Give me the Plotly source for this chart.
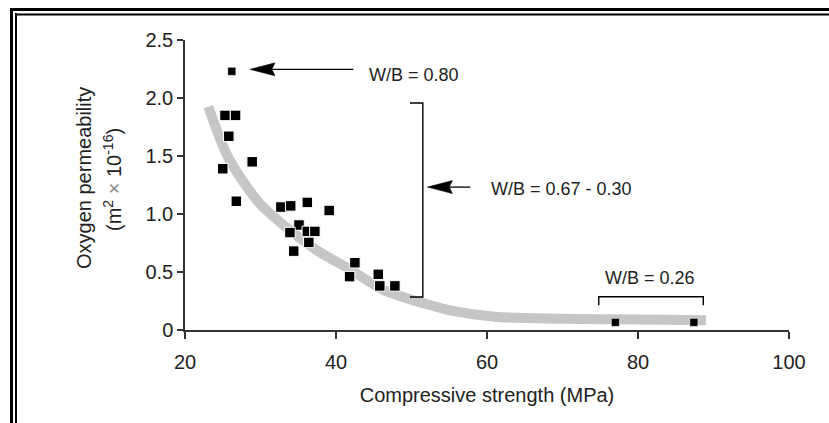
import plotly.graph_objects as go

# ---------------- data ----------------
wb080_strength = [26.2]
wb080_perm = [2.23]

wb067_strength = [25.3, 26.7, 25.8, 25.0, 28.9, 26.8, 32.7, 34.0, 36.2, 39.1, 35.1,
                  33.9, 36.2, 37.2, 36.4, 34.4, 42.5, 41.8, 45.6, 45.8, 47.8]
wb067_perm = [1.85, 1.85, 1.67, 1.39, 1.45, 1.11, 1.06, 1.07, 1.10, 1.03, 0.905,
              0.84, 0.85, 0.85, 0.755, 0.68, 0.58, 0.46, 0.48, 0.38, 0.38]

wb026_strength = [77.0, 87.4]
wb026_perm = [0.066, 0.066]

trend_strength = [23.1, 25.7, 29.9, 33.9, 37.4, 41.9, 46.3, 51.6, 55.1, 61.0, 70.0, 80.0, 89.0]
trend_perm = [1.925, 1.49, 1.09, 0.86, 0.69, 0.52, 0.345, 0.23, 0.17, 0.115, 0.098, 0.09, 0.085]

x_ticks = [20, 40, 60, 80, 100]
x_ticktext = ["20", "40", "60", "80", "100"]
y_ticks = [0, 0.5, 1.0, 1.5, 2.0, 2.5]
y_ticktext = ["0", "0.5", "1.0", "1.5", "2.0", "2.5"]

# ---------------- layout geometry ----------------
W, H = 829, 423
ML, MR, MT, MB = 185, 40, 40, 93
PW, PH = W - ML - MR, H - MT - MB
XMIN, XMAX, YMIN, YMAX = 20, 100, 0, 2.5
XPX = PW / (XMAX - XMIN)
YPX = PH / (YMAX - YMIN)


def px(x):
    return (x - ML) / PW


def py(y):
    return (H - MB - y) / PH


FONT = "Liberation Sans, Arial, sans-serif"
TXT = "#222222"
AX = "#333333"

fig = go.Figure()

fig.add_trace(go.Scatter(
    x=trend_strength, y=trend_perm, mode="lines",
    line=dict(color="#c6c6c6", width=10, shape="spline", smoothing=0.8),
    hoverinfo="skip", showlegend=False))

fig.add_trace(go.Scatter(
    x=wb067_strength, y=wb067_perm, mode="markers",
    marker=dict(symbol="square", size=10.5, color="black", line=dict(color="white", width=1)),
    showlegend=False))

fig.add_trace(go.Scatter(
    x=wb080_strength, y=wb080_perm, mode="markers",
    marker=dict(symbol="square", size=8, color="black", line=dict(color="white", width=0.5)),
    showlegend=False))

fig.add_trace(go.Scatter(
    x=wb026_strength, y=wb026_perm, mode="markers",
    marker=dict(symbol="square", size=8, color="black", line=dict(color="white", width=0.5)),
    showlegend=False))

shapes = []


def arrow(tip_x, tail_x, y):
    head_len = 25 / XPX
    half_w = 6.5 / YPX
    shapes.append(dict(type="line", xref="x", yref="y", x0=tip_x + head_len * 0.8, x1=tail_x,
                       y0=y, y1=y, line=dict(color="black", width=1.3)))
    shapes.append(dict(type="path", xref="x", yref="y",
                       path=f"M{tip_x},{y} L{tip_x + head_len},{y + half_w} "
                            f"L{tip_x + head_len * 0.88},{y} L{tip_x + head_len},{y - half_w} Z",
                       fillcolor="black", line=dict(color="black", width=0.5)))


arrow(28.6, 42.3, 2.247)
arrow(52.1, 57.8, 1.232)

# bracket for W/B 0.67-0.30
shapes.append(dict(type="path", xref="x", yref="y",
                   path="M49.8,1.957 L51.5,1.957 L51.5,0.284 L49.8,0.284",
                   line=dict(color="black", width=1.4)))
# bracket for W/B 0.26
shapes.append(dict(type="path", xref="x", yref="y",
                   path="M74.8,0.214 L74.8,0.287 L88.65,0.287 L88.65,0.214",
                   line=dict(color="black", width=1.4)))

# outer double frame
shapes += [
    dict(type="line", xref="paper", yref="paper", x0=px(11.5), x1=px(11.5), y0=py(8), y1=py(430),
         line=dict(color="black", width=3)),
    dict(type="line", xref="paper", yref="paper", x0=px(16), x1=px(16), y0=py(13), y1=py(430),
         line=dict(color="black", width=2)),
    dict(type="line", xref="paper", yref="paper", x0=px(10), x1=px(840), y0=py(9.5), y1=py(9.5),
         line=dict(color="black", width=3)),
    dict(type="line", xref="paper", yref="paper", x0=px(15), x1=px(840), y0=py(14.5), y1=py(14.5),
         line=dict(color="black", width=2)),
]

annotations = [
    dict(text="W/B = 0.80", x=44.1, y=2.198, xref="x", yref="y", xanchor="left", yanchor="middle",
         showarrow=False, font=dict(size=18, color=TXT, family=FONT)),
    dict(text="W/B = 0.67 - 0.30", x=60.2, y=1.216, xref="x", yref="y", xanchor="left",
         yanchor="middle", showarrow=False, font=dict(size=18, color=TXT, family=FONT)),
    dict(text="W/B = 0.26", x=81.6, y=0.446, xref="x", yref="y", xanchor="center",
         yanchor="middle", showarrow=False, font=dict(size=18, color=TXT, family=FONT)),
    dict(text="Oxygen permeability", x=px(84), y=py(178), xref="paper", yref="paper",
         xanchor="center", yanchor="middle", textangle=-90, showarrow=False,
         font=dict(size=20, color=TXT, family=FONT)),
    dict(text="(m<sup>2</sup> <span style='color:#888'>×</span> 10<sup>-16</sup>)",
         x=px(112), y=py(180), xref="paper", yref="paper",
         xanchor="center", yanchor="middle", textangle=-90, showarrow=False,
         font=dict(size=20, color=TXT, family=FONT)),
]

fig.update_layout(
    width=W, height=H,
    margin=dict(l=ML, r=MR, t=MT, b=MB, pad=0),
    paper_bgcolor="white", plot_bgcolor="white",
    font=dict(family=FONT, size=20, color=TXT),
    shapes=shapes, annotations=annotations,
    xaxis=dict(range=[XMIN, XMAX], tickvals=x_ticks, ticktext=x_ticktext,
               showgrid=False, zeroline=False, showline=True, linecolor=AX, linewidth=1.5,
               ticks="outside", ticklen=7, tickwidth=1.5, tickcolor=AX, ticklabelstandoff=6,
               tickfont=dict(size=20, color=TXT, family=FONT),
               title=dict(text="Compressive strength (MPa)", font=dict(size=20, color=TXT, family=FONT),
                          standoff=16)),
    yaxis=dict(range=[YMIN, YMAX], tickvals=y_ticks, ticktext=y_ticktext,
               showgrid=False, zeroline=False, showline=True, linecolor=AX, linewidth=1.5,
               ticks="outside", ticklen=6, tickwidth=1.5, tickcolor=AX,
               tickfont=dict(size=20, color=TXT, family=FONT)),
)

fig.write_html("out.html")
